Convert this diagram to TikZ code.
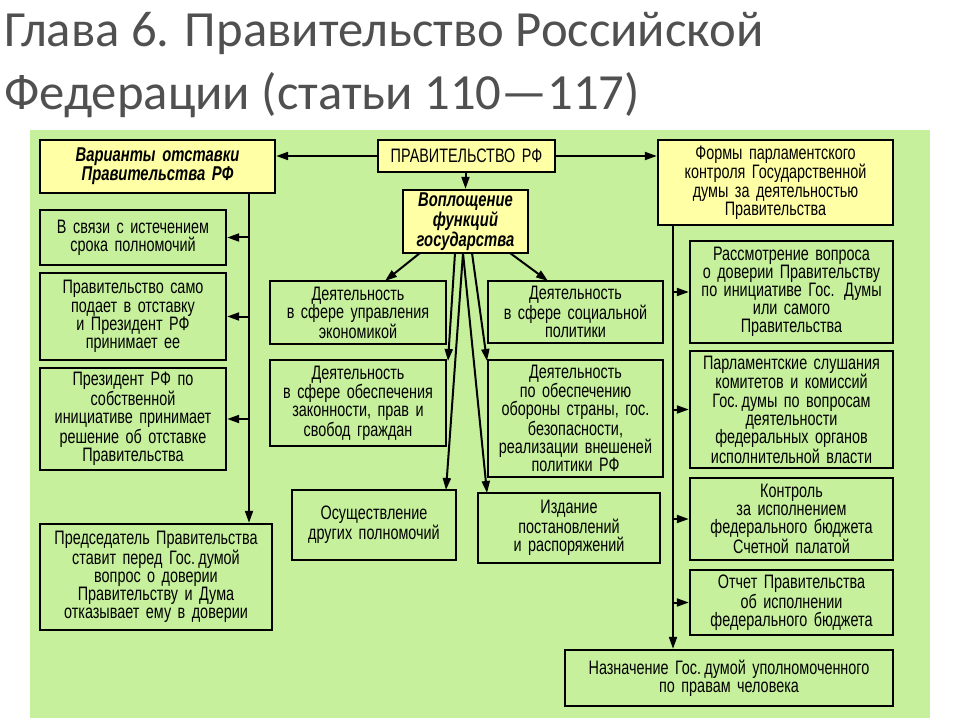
\documentclass[tikz,border=0pt]{standalone}
\usepackage{fontspec}
\setmainfont{Liberation Sans}[FakeStretch=0.74,WordSpace={0.7,0.3,0.2}]
\newfontfamily\titlefont{Carlito}
\usetikzlibrary{arrows.meta}
\definecolor{panel}{HTML}{C6F09C}
\definecolor{ybox}{HTML}{FFFFA6}
\definecolor{titlegray}{HTML}{505050}
\tikzset{
  gbox/.style={draw=black,line width=1.8pt,fill=panel,align=center,inner sep=0pt,font=\fontsize{14.6}{13.6}\selectfont},
  yboxs/.style={gbox,fill=ybox},
  ybi/.style={yboxs,font=\fontsize{15}{13.5}\selectfont\bfseries\itshape},
  arr/.style={line width=1.5pt,-{Triangle[length=9pt,width=6pt]}},
  ln/.style={line width=1.5pt}
}
\newcommand\mybox[7]{\node[#2,minimum width={0.75*(#5-#3)*1pt},minimum height={0.75*(#6-#4)*1pt},text width={0.75*(#5-#3)*1pt-2pt}] (#1) at ({(#3+#5)/2},{(#4+#6)/2}) {#7};}
\begin{document}
\begin{tikzpicture}[x=0.75pt,y=-0.75pt]
\useasboundingbox (0,0) rectangle (960,720);
\fill[white] (0,0) rectangle (960,720);
\fill[panel] (30,130) rectangle (930,718);
\node[anchor=base west,text=titlegray,font=\titlefont\fontsize{38}{38}\selectfont,inner sep=0] (t1) at (4,47) {Глава 6. Правительство Российской};
\node[anchor=base west,text=titlegray,font=\titlefont\fontsize{38}{38}\selectfont,inner sep=0] (t2) at (4,110) {Федерации (статьи 110—117)};

\mybox{gov}{yboxs}{378}{140}{555}{172}{ПРАВИТЕЛЬСТВО РФ}
\mybox{var}{ybi}{40}{140}{275}{193}{Варианты отставки\\Правительства РФ}
\mybox{voi}{ybi}{403}{190}{528}{253}{Воплощение\\функций\\государства}
\mybox{form}{yboxs}{658}{140}{893}{225}{Формы парламентского\\контроля Государственной\\думы за деятельностью\\Правительства}

\mybox{l1}{gbox}{40}{210}{226}{265}{В связи с истечением\\срока полномочий}
\mybox{l2}{gbox}{40}{273}{226}{360}{Правительство само\\подает в отставку\\и Президент РФ\\принимает ее}
\mybox{l3}{gbox}{40}{368}{226}{470}{Президент РФ по\\собственной\\инициативе принимает\\решение об отставке\\Правительства}
\mybox{l4}{gbox}{40}{524}{272}{630}{Председатель Правительства\\ставит перед Гос.\,думой\\вопрос о доверии\\Правительству и Дума\\отказывает ему в доверии}

\mybox{m1}{gbox}{270}{281}{446}{344}{Деятельность\\в сфере управления\\экономикой}
\mybox{m2}{gbox}{270}{360}{446}{446}{Деятельность\\в сфере обеспечения\\законности, прав и\\свобод граждан}
\mybox{m3}{gbox}{292}{490}{456}{560}{Осуществление\\других полномочий}
\mybox{n1}{gbox}{488}{281}{663}{343}{Деятельность\\в сфере социальной\\политики}
\mybox{n2}{gbox}{488}{360}{663}{477}{Деятельность\\по обеспечению\\обороны страны, гос.\\безопасности,\\реализации внешеней\\политики РФ}
\mybox{n3}{gbox}{478}{493}{660}{563}{Издание\\постановлений\\и распоряжений}

\mybox{r1}{gbox}{690}{241}{893}{343}{Рассмотрение вопроса\\о доверии Правительству\\по инициативе Гос. Думы\\или самого\\Правительства}
\mybox{r2}{gbox}{690}{351}{893}{468}{Парламентские слушания\\комитетов и комиссий\\Гос.\,думы по вопросам\\деятельности\\федеральных органов\\исполнительной власти}
\mybox{r3}{gbox}{690}{478}{893}{560}{Контроль\\за исполнением\\федерального бюджета\\Счетной палатой}
\mybox{r4}{gbox}{690}{570}{893}{635}{Отчет Правительства\\об исполнении\\федерального бюджета}
\mybox{r5}{gbox}{565}{650}{893}{706}{Назначение Гос.\,думой уполномоченного\\по правам человека}

\draw[arr] (gov.west) -- (var.east |- gov.west);
\draw[arr] (gov.east) -- (form.west |- gov.east);
\draw[arr] (gov.south -| voi.north) -- (voi.north);

\coordinate (L) at (249,193);
\draw[arr] (L) -- (l4.north -| L);
\draw[arr] (l1.east -| L) -- (l1.east);
\draw[arr] (l2.east -| L) -- (l2.east);
\draw[arr] (l3.east -| L) -- (l3.east);

\coordinate (R) at (673,225);
\draw[arr] (R) -- (r5.north -| R);
\foreach \b in {r1,r2,r3,r4} \draw[arr] (\b.west -| R) -- (\b.west);

\coordinate (va) at (420,253);
\coordinate (vb) at (510,253);
\coordinate (vc) at (463,253);
\draw[arr] (va) -- (385,281);
\draw[arr] (vb) -- (548,281);
\coordinate (p1) at (448,361);
\coordinate (p2) at (487,361);
\coordinate (p3) at (446,490);
\coordinate (p4) at (487,493);
\draw[arr] (455,253) -- (p1);
\draw[arr] (472,253) -- (p2);
\draw[arr] (vc) -- (p3);
\draw[arr] (vc) -- (p4);
\end{tikzpicture}
\end{document}
